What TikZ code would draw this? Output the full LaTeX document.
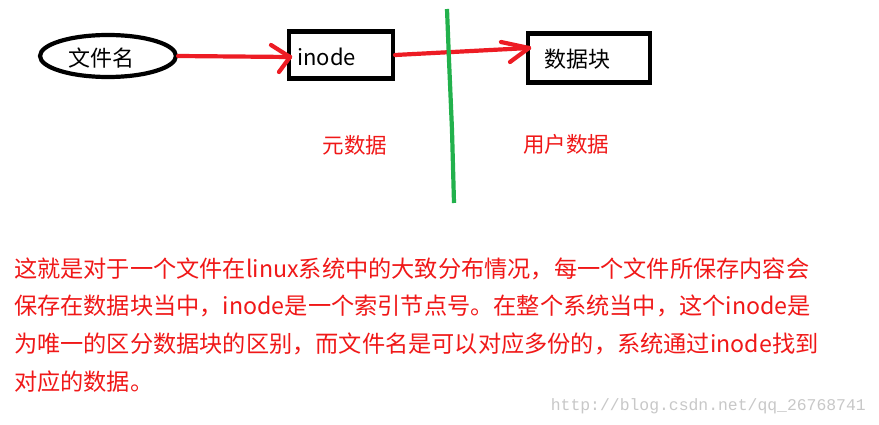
\documentclass[tikz,border=0pt]{standalone}
\usepackage{fontspec}
\setmainfont{Noto Sans CJK SC}
\newfontfamily\wmfont{Liberation Mono}
\usetikzlibrary{shapes.geometric}
\definecolor{pred}{RGB}{237,28,36}
\definecolor{pgreen}{RGB}{34,177,76}
\definecolor{tred}{RGB}{240,24,24}
\definecolor{wmgray}{RGB}{200,200,200}
\tikzset{
  blk/.style={draw=black,line width=4.2pt,inner sep=0pt},
  redline/.style={draw=pred,line width=4.2pt,line cap=round,line join=round},
  lbl/.style={text=tred,font=\fontsize{21.5}{24}\selectfont,inner sep=0pt},
  para/.style={text=tred,font=\fontsize{23.2}{28}\selectfont,inner sep=0pt,anchor=base west},
}
\begin{document}
\begin{tikzpicture}[x=1pt,y=-1pt]
\useasboundingbox[fill=white] (0,0) rectangle (879,425);
% nodes
\node[blk,ellipse,minimum width=136pt,minimum height=42pt] (fn) at (108,56) {};
\node[inner sep=0pt,font=\fontsize{22}{26}\selectfont] (fnt) at (101,58) {文件名};
\node[blk,minimum width=104pt,minimum height=47pt] (ino) at (341,55) {};
\node[inner sep=0pt,anchor=west,font=\fontsize{22}{26}\selectfont] (inot) at (297,57) {inode};
\node[blk,minimum width=122pt,minimum height=49pt] (blkd) at (589,58) {};
\node[inner sep=0pt,font=\fontsize{22}{26}\selectfont] (blkt) at (577,59) {数据块};
% connectors
\coordinate (t1) at (290,57);
\coordinate (t2) at (529,48);
\draw[redline] (fn.east) -- (t1);
\draw[redline] (t1) -- (271,45);
\draw[redline] (t1) -- (279,72);
\draw[redline] (ino.east) -- (t2);
\draw[redline] (t2) -- (501,42);
\draw[redline] (t2) -- (510,62);
% green divider
\coordinate (g1) at (447,9);
\coordinate (g2) at (454,203);
\draw[pgreen,line width=4.2pt] (g1) -- (449,60) -- (452,130) -- (g2);
% labels
\node[lbl] (meta) at (355,145) {元数据};
\node[lbl] (user) at (566,144) {用户数据};
% paragraph
\node[para] (p1) at (14,277) {这就是对于一个文件在linux系统中的大致分布情况，每一个文件所保存内容会};
\node[para] (p2) at (14,314) {保存在数据块当中，inode是一个索引节点号。在整个系统当中，这个inode是};
\node[para] (p3) at (14,352) {为唯一的区分数据块的区别，而文件名是可以对应多份的，系统通过inode找到};
\node[para] (p4) at (14,390) {对应的数据。};
% watermark
\node[text=wmgray,font=\wmfont\fontsize{16.4}{18}\selectfont,inner sep=0pt,anchor=base east] (wm) at (866,410) {http://blog.csdn.net/qq\_26768741};
\end{tikzpicture}
\end{document}
